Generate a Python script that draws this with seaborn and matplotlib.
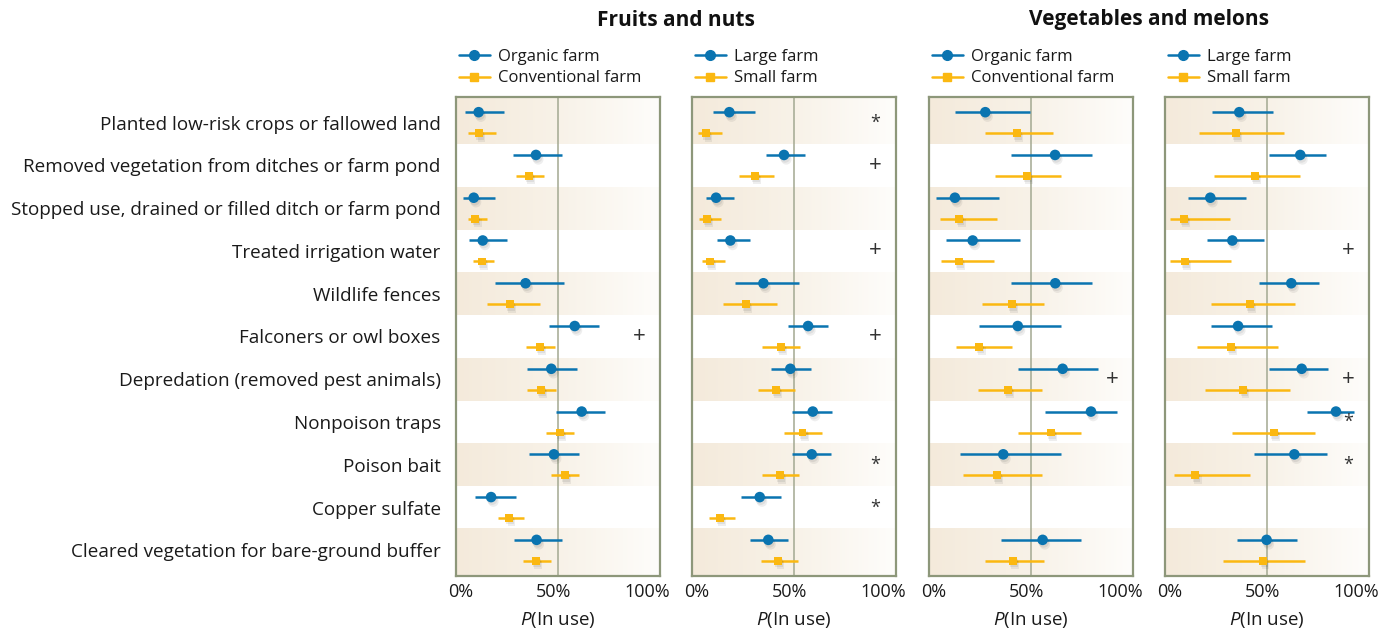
# Use of food-safety practices by farm type, fruits/nuts vs vegetables/melons.

import numpy as np
import pandas as pd
import matplotlib
matplotlib.use("Agg")
import matplotlib.pyplot as plt
import matplotlib.patheffects as pe
from matplotlib.colors import LinearSegmentedColormap
from matplotlib.lines import Line2D
from matplotlib.transforms import blended_transform_factory
import seaborn as sns

sns.set_theme(style="white")
plt.rcParams["font.family"] = ["Open Sans", "DejaVu Sans"]
plt.rcParams["mathtext.fontset"] = "custom"
plt.rcParams["mathtext.it"] = "Open Sans:italic"
plt.rcParams["mathtext.rm"] = "Open Sans"

practices = [
    "Planted low-risk crops or fallowed land",
    "Removed vegetation from ditches or farm pond",
    "Stopped use, drained or filled ditch or farm pond",
    "Treated irrigation water",
    "Wildlife fences",
    "Falconers or owl boxes",
    "Depredation (removed pest animals)",
    "Nonpoison traps",
    "Poison bait",
    "Copper sulfate",
    "Cleared vegetation for bare-ground buffer",
]
tick_vals = [0, 0.5, 1]
tick_labels = ["0%", "50%", "100%"]
nan = np.nan

# Fruits and nuts: organic vs conventional
fn_org = [0.111, 0.392, 0.087, 0.131, 0.341, 0.582, 0.467, 0.616, 0.480, 0.172, 0.395]
fn_org_lo = [0.046, 0.279, 0.036, 0.065, 0.193, 0.454, 0.348, 0.492, 0.358, 0.095, 0.283]
fn_org_hi = [0.235, 0.521, 0.193, 0.248, 0.528, 0.699, 0.595, 0.729, 0.603, 0.293, 0.521]
fn_conv = [0.114, 0.356, 0.095, 0.127, 0.263, 0.412, 0.417, 0.508, 0.533, 0.261, 0.392]
fn_conv_lo = [0.060, 0.293, 0.060, 0.085, 0.154, 0.345, 0.350, 0.440, 0.464, 0.204, 0.327]
fn_conv_hi = [0.196, 0.430, 0.152, 0.188, 0.412, 0.484, 0.489, 0.578, 0.604, 0.335, 0.464]
fn_type_sig = ["", "", "", "", "", "+", "", "", "", "", ""]

# Fruits and nuts: large vs small
fn_large = [0.183, 0.451, 0.118, 0.188, 0.350, 0.569, 0.482, 0.592, 0.587, 0.332, 0.374]
fn_large_lo = [0.101, 0.361, 0.067, 0.123, 0.209, 0.469, 0.386, 0.492, 0.492, 0.242, 0.286]
fn_large_hi = [0.307, 0.554, 0.206, 0.284, 0.525, 0.665, 0.582, 0.685, 0.681, 0.435, 0.472]
fn_small = [0.070, 0.307, 0.074, 0.088, 0.263, 0.435, 0.412, 0.542, 0.431, 0.136, 0.423]
fn_small_lo = [0.029, 0.230, 0.036, 0.049, 0.150, 0.345, 0.325, 0.453, 0.345, 0.083, 0.337]
fn_small_hi = [0.147, 0.400, 0.142, 0.162, 0.418, 0.531, 0.505, 0.636, 0.525, 0.211, 0.518]
fn_size_sig = ["*", "+", "", "+", "", "+", "", "", "*", "*", ""]

# Vegetables and melons: organic vs conventional
vm_org = [0.276, 0.618, 0.127, 0.214, 0.619, 0.435, 0.655, 0.794, 0.364, nan, 0.557]
vm_org_lo = [0.127, 0.404, 0.036, 0.085, 0.404, 0.247, 0.436, 0.569, 0.150, nan, 0.355]
vm_org_hi = [0.497, 0.799, 0.343, 0.446, 0.797, 0.649, 0.830, 0.923, 0.645, nan, 0.747]
vm_conv = [0.431, 0.479, 0.149, 0.147, 0.405, 0.247, 0.386, 0.596, 0.333, nan, 0.412]
vm_conv_lo = [0.275, 0.325, 0.056, 0.060, 0.261, 0.134, 0.242, 0.438, 0.167, nan, 0.275]
vm_conv_hi = [0.609, 0.645, 0.335, 0.317, 0.565, 0.408, 0.555, 0.743, 0.555, nan, 0.565]
vm_type_sig = ["", "", "", "", "", "", "+", "", "", "", ""]

# Vegetables and melons: large vs small
vm_large = [0.364, 0.663, 0.222, 0.330, 0.619, 0.358, 0.670, 0.838, 0.634, nan, 0.498]
vm_large_lo = [0.229, 0.511, 0.111, 0.206, 0.462, 0.224, 0.510, 0.696, 0.436, nan, 0.353]
vm_large_hi = [0.528, 0.789, 0.395, 0.484, 0.753, 0.523, 0.799, 0.926, 0.793, nan, 0.646]
vm_small = [0.348, 0.441, 0.092, 0.096, 0.417, 0.322, 0.384, 0.534, 0.149, nan, 0.482]
vm_small_lo = [0.168, 0.242, 0.023, 0.026, 0.227, 0.155, 0.198, 0.327, 0.043, nan, 0.284]
vm_small_hi = [0.585, 0.663, 0.317, 0.322, 0.636, 0.554, 0.613, 0.737, 0.415, nan, 0.688]
vm_size_sig = ["", "", "", "+", "", "", "+", "*", "*", "", ""]

panels = [
    ("Organic farm", "Conventional farm", fn_org, fn_org_lo, fn_org_hi,
     fn_conv, fn_conv_lo, fn_conv_hi, fn_type_sig),
    ("Large farm", "Small farm", fn_large, fn_large_lo, fn_large_hi,
     fn_small, fn_small_lo, fn_small_hi, fn_size_sig),
    ("Organic farm", "Conventional farm", vm_org, vm_org_lo, vm_org_hi,
     vm_conv, vm_conv_lo, vm_conv_hi, vm_type_sig),
    ("Large farm", "Small farm", vm_large, vm_large_lo, vm_large_hi,
     vm_small, vm_small_lo, vm_small_hi, vm_size_sig),
]

BLUE = "#0a74b0"
GOLD = "#fbb811"
FRAME = "#8d977a"
TXT = "#1a1a1a"
band_cmap = LinearSegmentedColormap.from_list("band", ["#f4eadb", "#f8f2e8", "#fefdfb"])
grad = np.linspace(0, 1, 256).reshape(1, -1)

fig = plt.figure(figsize=(13.9, 6.33), dpi=100)
lefts = [456, 692, 929, 1165]
axes = [fig.add_axes([l / 1390, 1 - 576 / 633, 204 / 1390, 479 / 633]) for l in lefts]

n = len(practices)
ylo, yhi = -0.6, n - 0.4
off = 0.245
shadow = [pe.SimplePatchShadow(offset=(0.8, -1.8), shadow_rgbFace="k", alpha=0.08),
          pe.SimplePatchShadow(offset=(1.6, -3.2), shadow_rgbFace="k", alpha=0.07),
          pe.Normal()]

for k, (ax, spec) in enumerate(zip(axes, panels)):
    la, lb, ea, loa, hia, eb, lob, hib, sig = spec
    rows = np.arange(n)
    d = pd.concat([
        pd.DataFrame({"row": rows, "group": la, "p": ea, "lo": loa, "hi": hia,
                      "pos": rows - off}),
        pd.DataFrame({"row": rows, "group": lb, "p": eb, "lo": lob, "hi": hib,
                      "pos": rows + off}),
    ]).dropna()

    # alternating shaded rows
    for i in range(0, n, 2):
        y0 = ylo if i == 0 else i - 0.5
        y1 = yhi if i == n - 1 else i + 0.5
        ax.imshow(grad, cmap=band_cmap, extent=[0, 1, y1, y0], aspect="auto",
                  zorder=0, interpolation="bicubic")
    ax.axvline(0.5, color="#a3a891", lw=1.1, zorder=1)

    for g, c in [(la, BLUE), (lb, GOLD)]:
        dd = d[d.group == g]
        ax.hlines(dd.pos, dd.lo, dd.hi, color=c, lw=1.8, zorder=2)

    sns.scatterplot(data=d, x="p", y="pos", hue="group", style="group",
                    size="group", palette={la: BLUE, lb: GOLD},
                    markers={la: "o", lb: "s"}, sizes={la: 58, lb: 32},
                    edgecolor="none", linewidth=0, legend=False, ax=ax, zorder=3)
    ax.collections[-1].set_path_effects(shadow)

    for i, s in enumerate(sig):
        if s:
            ax.text(0.9, i, s, ha="center", va="center",
                    fontsize=16 if s == "+" else 13, color="#333333", zorder=4)

    ax.set_xlim(0, 1)
    ax.set_ylim(yhi, ylo)
    ax.set_xticks(tick_vals)
    ax.set_xticklabels([])
    # tick labels are nudged inward, as in the original
    tr = blended_transform_factory(ax.transData, ax.transAxes)
    for v, lab, ha, dx in zip(tick_vals, tick_labels, ["left", "center", "right"],
                              [-0.04, -0.02, 0.05]):
        ax.text(v + dx, -0.034, lab, transform=tr, ha=ha, va="center",
                fontsize=13, color=TXT, clip_on=False)
    ax.set_xlabel("$P$(In use)", fontsize=13.5, color=TXT)
    ax.xaxis.set_label_coords(0.5, -0.072)
    ax.set_ylabel("")
    if k == 0:
        ax.set_yticks(range(n))
        ax.set_yticklabels(practices, fontsize=13.6, color=TXT)
    else:
        ax.set_yticks([])
    ax.tick_params(length=0, axis="both")
    ax.tick_params(axis="y", pad=11)
    for sp in ax.spines.values():
        sp.set_color(FRAME)
        sp.set_linewidth(1.6)

    handles = [Line2D([], [], color=BLUE, lw=1.8, marker="o", ms=7),
               Line2D([], [], color=GOLD, lw=1.8, marker="s", ms=5.2)]
    ax.legend(handles, [la, lb], loc="lower left", bbox_to_anchor=(0.015, 1.022),
              borderaxespad=0, borderpad=0, frameon=False, fontsize=12,
              labelcolor=TXT, handlelength=1.85, handletextpad=0.5,
              labelspacing=0.35)

for a, b, title in [(axes[0], axes[1], "Fruits and nuts"),
                    (axes[2], axes[3], "Vegetables and melons")]:
    xm = (a.get_position().x0 + b.get_position().x1) / 2
    fig.text(xm, 1 - 20 / 633, title, ha="center", va="center",
             fontsize=15, fontweight="bold", color="#111111")

fig.savefig("out.png", dpi=100)
